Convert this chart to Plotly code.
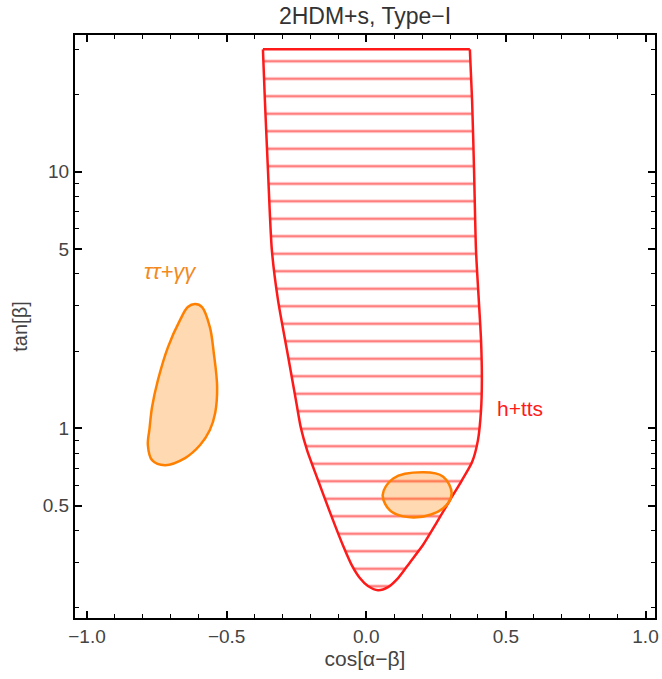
import numpy as np
import plotly.graph_objects as go

# ---- data ----
# h+tts region (red, hatched): boundary from top-left corner, down and round, up to top-right corner
htts_x = [-0.370, -0.363, -0.352, -0.338, -0.316, -0.284, -0.252, -0.234, -0.212, -0.173,
          -0.126, -0.084, -0.052, -0.023, 0.006, 0.042, 0.078, 0.114, 0.157, 0.203,
          0.253, 0.300, 0.343, 0.379, 0.400, 0.411, 0.414, 0.411, 0.403, 0.393,
          0.386, 0.379, 0.371]
htts_y = [30.0, 19.0, 10.15, 4.95, 3.16, 2.02, 1.289, 1.003, 0.823, 0.629,
          0.459, 0.351, 0.293, 0.261, 0.243, 0.234, 0.2407, 0.261, 0.301, 0.351,
          0.431, 0.5256, 0.629, 0.739, 0.900, 1.178, 1.543, 2.209, 3.16, 4.95,
          10.15, 19.0, 30.0]

# tau tau + gamma gamma region (orange, left blob)
tt_x = [-0.746, -0.710, -0.667, -0.639, -0.613, -0.588, -0.560, -0.546, -0.534, -0.541,
        -0.560, -0.595, -0.649, -0.721, -0.767, -0.782, -0.776, -0.767, -0.746]
tt_y = [1.543, 2.074, 2.64, 2.97, 3.05, 2.97, 2.48, 1.966, 1.449, 1.147,
        0.985, 0.861, 0.766, 0.719, 0.752, 0.861, 1.0, 1.211, 1.543]

# small orange ellipse
el_x = [0.0587, 0.0967, 0.204, 0.2756, 0.3057, 0.2756, 0.1804, 0.0909, 0.0587]
el_y = [0.5495, 0.638, 0.674, 0.648, 0.558, 0.488, 0.450, 0.473, 0.5495]

# labels
lbl_tt = ("ττ+γγ", -0.700, 4.07)
lbl_h = ("h+tts", 0.550, 1.20)

x_ticks = [-1.0, -0.5, 0.0, 0.5, 1.0]
x_ticklabels = ["−1.0", "−0.5", "0.0", "0.5", "1.0"]
x_minor = [-0.9, -0.8, -0.7, -0.6, -0.4, -0.3, -0.2, -0.1, 0.1, 0.2, 0.3, 0.4, 0.6, 0.7, 0.8, 0.9]
y_ticks = [0.5, 1, 5, 10]
y_ticklabels = ["0.5", "1", "5", "10"]
y_minor = [0.2, 0.3, 0.4, 0.6, 0.7, 0.8, 0.9, 2, 3, 4, 6, 7, 8, 9, 20, 30]

RED = "#ff1a1a"
ORANGE = "#ff8000"
FONT = "Liberation Sans, Arial"

fig = go.Figure()
# hatched region: open spline, closed by the fill with a straight top edge
fig.add_trace(go.Scatter(
    x=htts_x, y=htts_y, mode="lines", fill="toself",
    line=dict(color=RED, width=2.5, shape="spline", smoothing=0.7),
    fillcolor="rgba(0,0,0,0)",
    fillpattern=dict(shape="-", size=17.5, solidity=0.15,
                     fgcolor="#ff7f7f", fgopacity=1, bgcolor="rgba(255,255,255,0)",
                     fillmode="overlay"),
    hoverinfo="skip", showlegend=False))
# top edge of the region
fig.add_trace(go.Scatter(
    x=[htts_x[-1], htts_x[0]], y=[htts_y[-1], htts_y[0]], mode="lines",
    line=dict(color=RED, width=2.5), hoverinfo="skip", showlegend=False))
fig.add_trace(go.Scatter(
    x=tt_x, y=tt_y, mode="lines", fill="toself",
    line=dict(color=ORANGE, width=2.5, shape="spline", smoothing=1.0),
    fillcolor="rgba(255,128,0,0.3)", hoverinfo="skip", showlegend=False))
fig.add_trace(go.Scatter(
    x=el_x, y=el_y, mode="lines", fill="toself",
    line=dict(color=ORANGE, width=2.5, shape="spline", smoothing=1.0),
    fillcolor="rgba(255,128,0,0.3)", hoverinfo="skip", showlegend=False))

fig.add_annotation(x=lbl_tt[1], y=np.log10(lbl_tt[2]), text="<i>" + lbl_tt[0] + "</i>", showarrow=False,
                   font=dict(family=FONT, size=22, color="#f28a1e"))
fig.add_annotation(x=lbl_h[1], y=np.log10(lbl_h[2]), text=lbl_h[0], showarrow=False,
                   font=dict(family=FONT, size=21, color=RED))

axis_common = dict(showline=True, linecolor="black", linewidth=2, mirror="allticks",
                   ticks="inside", ticklen=7, tickwidth=1.5, tickcolor="black",
                   showgrid=False, zeroline=False,
                   tickfont=dict(family=FONT, size=19, color="#444444"))

fig.update_xaxes(range=[-1.043, 1.034], tickmode="array", tickvals=x_ticks, ticktext=x_ticklabels,
                 minor=dict(tickmode="array", tickvals=x_minor, ticks="inside", ticklen=4,
                            tickwidth=1.2, tickcolor="black"),
                 title=dict(text="cos[α−β]", standoff=4,
                            font=dict(family=FONT, size=21, color="#444444")),
                 **axis_common)
fig.update_yaxes(type="log", range=[-0.739, 1.533], tickmode="array", tickvals=y_ticks,
                 ticktext=y_ticklabels,
                 minor=dict(tickmode="array", tickvals=y_minor, ticks="inside", ticklen=4,
                            tickwidth=1.2, tickcolor="black"),
                 title=dict(text="tan[β]", standoff=10,
                            font=dict(family=FONT, size=20, color="#444444")),
                 **axis_common)

fig.update_layout(
    width=662, height=679,
    margin=dict(l=75, r=7, t=35, b=61, autoexpand=False),
    paper_bgcolor="white", plot_bgcolor="white",
    title=dict(text="2HDM+s, Type−I", x=0.5, xref="paper", y=1 - 16 / 679, yanchor="middle",
               font=dict(family=FONT, size=23, color="#333333")),
    showlegend=False,
)

fig.write_html("out.html")
